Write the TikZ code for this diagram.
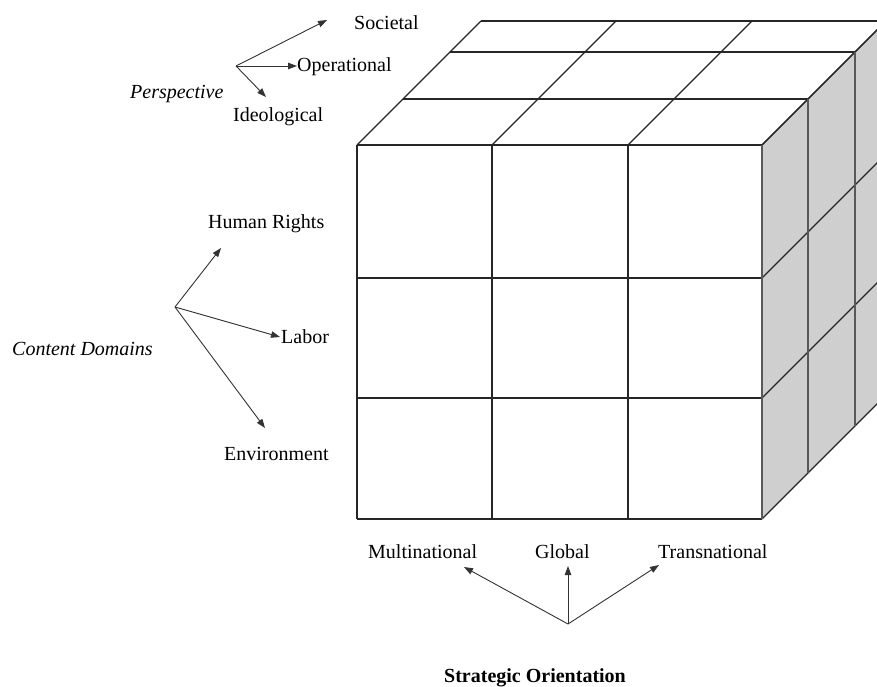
\documentclass[tikz,border=0pt]{standalone}
\usepackage{fontspec}
\setmainfont{Liberation Serif}
\usetikzlibrary{arrows.meta}
\begin{document}
\begin{tikzpicture}[x=1pt,y=-1pt,
  lbl/.style={inner sep=0pt, anchor=base west, font=\fontsize{20}{24}\selectfont},
  grid/.style={draw=black!85, line width=1.2pt, line join=miter},
  sidev/.style={draw=black!65, line width=1.7pt},
  pointer/.style={draw=black!80, line width=0.9pt, -{Triangle[length=9pt,width=6.5pt]}}
]
\useasboundingbox (0,0) rectangle (877,687);

% ---------- the cube ----------
\begin{scope}
\clip (0,0) rectangle (877,687);
% right face (shaded)
\fill[black!19] (762,145) -- (886,21) -- (886,395) -- (762,519) -- cycle;
% top face
\fill[white] (357,145) -- (481,21) -- (886,21) -- (762,145) -- cycle;
% front face
\fill[white] (357,145) rectangle (762,519);
% front grid
\foreach \c in {357,492,628,762} \draw[grid] (\c,145) -- (\c,519);
\foreach \r in {145,278,398,519} \draw[grid] (357,\r) -- (762,\r);
% top grid
\foreach \d in {46,93,124} \draw[grid] (357+\d,145-\d) -- (762+\d,145-\d);
\foreach \c in {357,492,628,762} \draw[grid] (\c,145) -- (\c+124,21);
% right grid
\foreach \r in {145,278,398,519} \draw[grid] (762,\r) -- (886,\r-124);
\foreach \d in {46,93} \draw[sidev] (762+\d,145-\d) -- (762+\d,519-\d);
\draw[sidev] (762,145) -- (762,519);
\end{scope}

% ---------- perspective ----------
\node[lbl] (soc) at (354,30) {Societal};
\node[lbl] (ope) at (297,72) {Operational};
\node[lbl] (per) at (130,99) {\itshape Perspective};
\node[lbl] (ide) at (233,122) {Ideological};
\coordinate (po) at (236,66);
\coordinate (psoc) at (327,20);
\coordinate (pide) at (266,97);
\draw[pointer] (po) -- (psoc);
\draw[pointer] (po) -- (ope.west |- po);
\draw[pointer] (po) -- (pide);

% ---------- content domains ----------
\node[lbl] (hr) at (208,228) {Human Rights};
\node[lbl] (lab) at (281,343) {Labor};
\node[lbl] (cd) at (12,355) {\itshape Content Domains};
\node[lbl] (env) at (224,460) {Environment};
\coordinate (co) at (175,307);
\coordinate (chr) at (221,248);
\coordinate (clab) at (280,337);
\coordinate (cenv) at (265,428);
\draw[pointer] (co) -- (chr);
\draw[pointer] (co) -- (clab);
\draw[pointer] (co) -- (cenv);

% ---------- strategic orientation ----------
\node[lbl] (mul) at (368,558) {Multinational};
\node[lbl] (glo) at (535,558) {Global};
\node[lbl] (tra) at (658,558) {Transnational};
\node[lbl] (so) at (444,682) {\bfseries Strategic Orientation};
\coordinate (so0) at (568,624);
\coordinate (smul) at (464,567);
\coordinate (sglo) at (568,566);
\coordinate (stra) at (659,565);
\draw[pointer] (so0) -- (smul);
\draw[pointer] (so0) -- (sglo);
\draw[pointer] (so0) -- (stra);
\end{tikzpicture}
\end{document}
